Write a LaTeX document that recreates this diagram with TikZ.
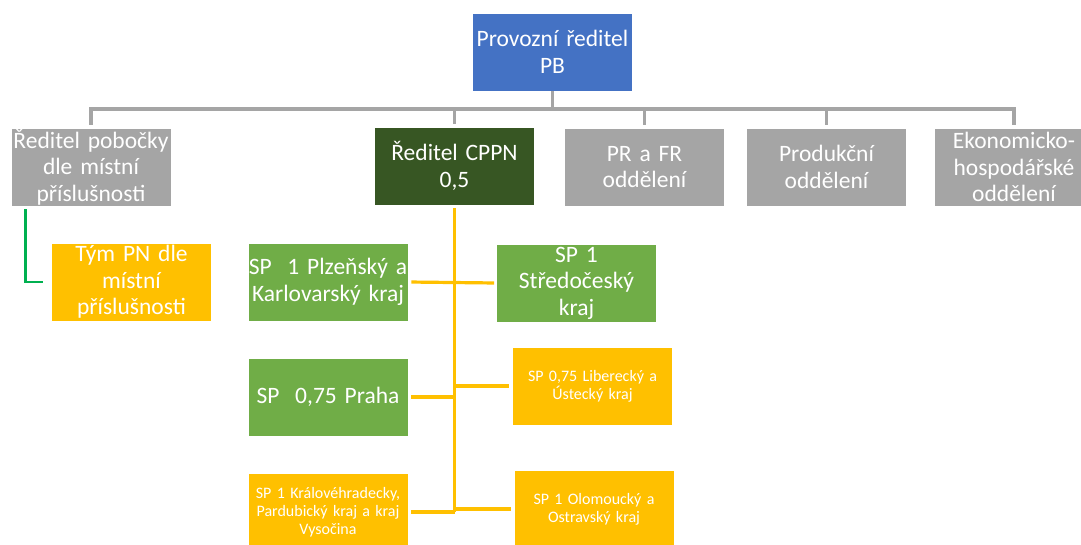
\documentclass[tikz,border=0pt]{standalone}
\usepackage{fontspec}
\setmainfont{Carlito}
\usepackage{tikz}
\usetikzlibrary{positioning}
\definecolor{mblue}{HTML}{4472C4}
\definecolor{mgray}{HTML}{A5A5A5}
\definecolor{mdgreen}{HTML}{375623}
\definecolor{mgreen}{HTML}{70AD47}
\definecolor{morange}{HTML}{FFC000}
\definecolor{mline}{HTML}{00B050}
\tikzset{box/.style = {rectangle, draw=white, line width=0.6pt, text=white, align=center,
                       minimum width=160pt, minimum height=78pt, inner sep=0pt, text width=160pt,
                       font=\fontsize{23.5}{26.5}\selectfont},
         smallbox/.style = {box, font=\fontsize{16}{18}\selectfont},
         grayline/.style = {draw=mgray, line width=3.2pt},
         orangeline/.style = {draw=morange, line width=3.2pt}}

\begin{document}
\begin{tikzpicture}[x=1pt, y=-1pt]
    \useasboundingbox [fill=white] (0, 0) rectangle (1081, 544);

    \node [box, fill=mblue] (top) at (552.5, 52) {Provozní ředitel\\PB};

    \node [box, fill=mgray] (pobocka) at (91, 167) {Ředitel pobočky\\dle místní\\příslušnosti};
    \node [box, fill=mdgreen] (cppn) at (454.5, 166) {Ředitel CPPN\\0,5};
    \node [box, fill=mgray] (prfr) at (644.5, 167) {PR a FR\\oddělení};
    \node [box, fill=mgray] (produkce) at (826.5, 167) {Produkční\\oddělení};
    \node [box, fill=mgray] (ekonomika) at (1014, 167) {Ekonomicko-\\hospodářské\\oddělení};

    \node [box, fill=morange] (tym) at (131.5, 282) {Tým PN dle\\místní\\příslušnosti};

    \node [box, fill=mgreen] (plzen) at (328, 282) {SP\ \ 1 Plzeňský a\\Karlovarský kraj};
    \node [box, fill=mgreen] (stredo) at (576.5, 283) {SP 1\\Středočeský\\kraj};
    \node [box, fill=mgreen] (praha) at (328, 397) {SP\ \ 0,75 Praha};
    \node [smallbox, fill=morange] (liberec) at (592.5, 386) {SP 0,75 Liberecký a\\Ústecký kraj};
    \node [smallbox, fill=morange] (hradec) at (328, 512) {SP 1 Královéhradecky,\\Pardubický kraj a kraj\\Vysočina};
    \node [smallbox, fill=morange] (olomouc) at (594, 509) {SP 1 Olomoucký a\\Ostravský kraj};

    \coordinate (bus) at (0, 109);
    \draw [grayline] (top.south) -- (top.south |- bus);
    \draw [grayline, line cap=rect] (pobocka.north |- bus) -- (ekonomika.north |- bus);
    \foreach \n in {pobocka, cppn, prfr, produkce, ekonomika}
        \draw [grayline, shorten >=3pt] (\n.north |- bus) -- (\n.north);

    \draw [draw=mline, line width=2.6pt, shorten <=3pt, shorten >=8pt] ([xshift=15pt]pobocka.south west) |- (tym.west);

    \draw [orangeline, shorten <=3pt] (cppn.south) -- (cppn.south |- hradec.east);
    \draw [orangeline, shorten <=3pt, shorten >=2pt] (plzen.east) -- (stredo.west);
    \draw [orangeline, shorten <=3pt] (praha.east) -- (praha.east -| cppn.south);
    \draw [orangeline, shorten >=3pt] (cppn.south |- liberec.west) -- (liberec.west);
    \draw [orangeline, shorten <=3pt] (hradec.east) -- (hradec.east -| cppn.south);
    \draw [orangeline, shorten >=3pt] (cppn.south |- olomouc.west) -- (olomouc.west);
  \end{tikzpicture}
\end{document}
